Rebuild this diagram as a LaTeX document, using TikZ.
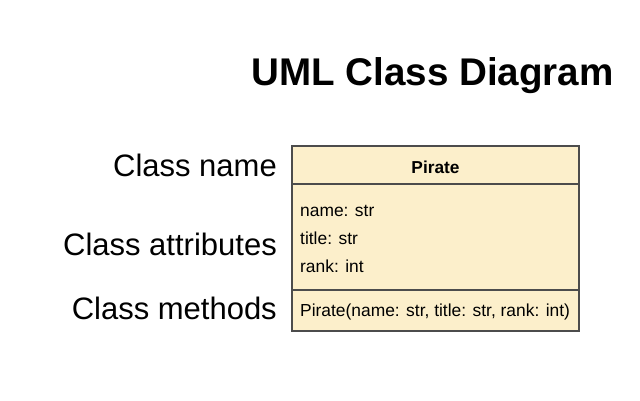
\documentclass[tikz,border=0pt]{standalone}
\usepackage{fontspec}
\setmainfont{Liberation Sans}
\begin{document}
\begin{tikzpicture}[x=1pt,y=-1pt,
  compart/.style={draw=black!70,fill=classfill,line width=1.1pt},
  sidelabel/.style={anchor=base east,inner sep=0pt,font=\fontsize{31}{33}\selectfont},
  member/.style={anchor=base west,inner sep=0pt,font=\fontsize{17.4}{19}\selectfont}]
\definecolor{classfill}{HTML}{FCEFCB}
\useasboundingbox[fill=white] (0,0) rectangle (640,400);
% title
\node[anchor=base east,inner sep=0pt,font=\bfseries\fontsize{38.6}{44}\selectfont] (title) at (614,85) {UML Class Diagram};
% class box compartments
\draw[compart] (292,146) rectangle (579,184);
\draw[compart] (292,184) rectangle (579,290);
\draw[compart] (292,290) rectangle (579,331);
\node[anchor=base,inner sep=0pt,font=\bfseries\fontsize{17.3}{19}\selectfont] (cname) at (435.5,173) {Pirate};
\node[member] (a1) at (300,216) {name: str};
\node[member] (a2) at (300,244) {title: str};
\node[member] (a3) at (300,272) {rank: int};
\node[member] (m1) at (300,316) {Pirate(name: str, title: str, rank: int)};
% side labels
\node[sidelabel] (lname) at (277,176) {Class name};
\node[sidelabel] (lattr) at (277,255) {Class attributes};
\node[sidelabel] (lmeth) at (277,319) {Class methods};
\end{tikzpicture}
\end{document}
